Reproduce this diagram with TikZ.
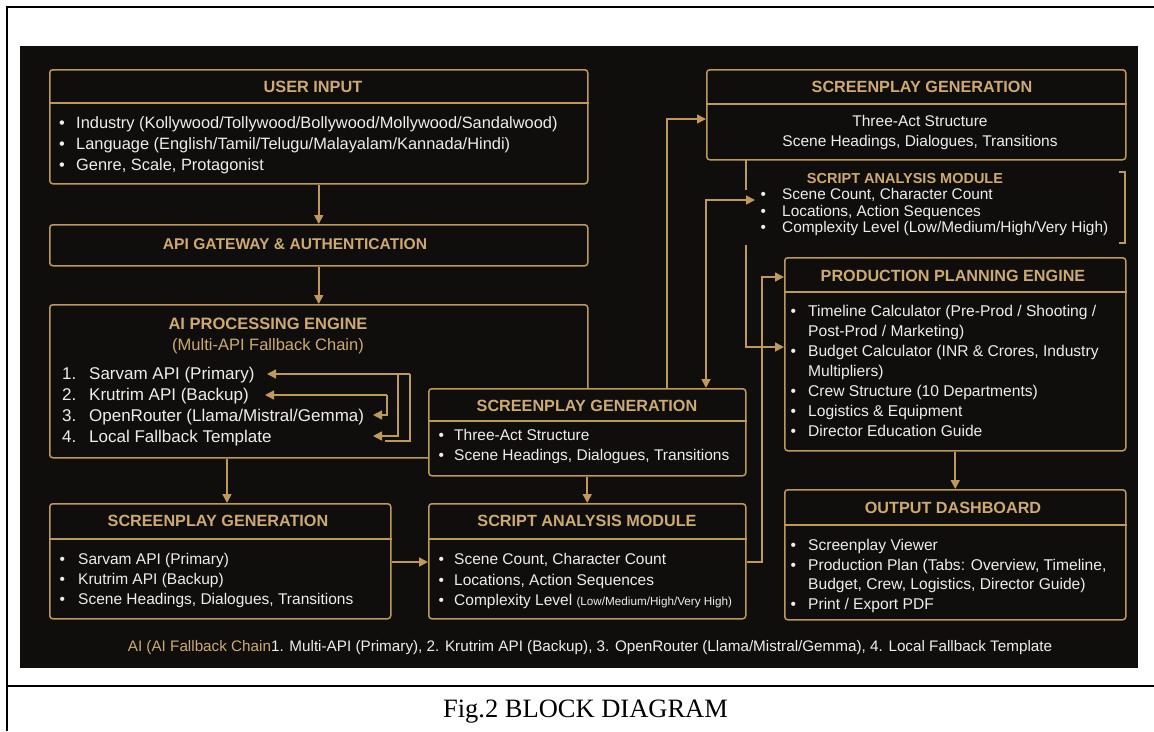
\documentclass[tikz,border=0pt]{standalone}
\usepackage{fontspec}
\setmainfont{Liberation Sans}
\newfontfamily\serifcap{Liberation Serif}
\usetikzlibrary{arrows.meta,calc}
\definecolor{gold}{RGB}{190,153,90}
\definecolor{goldt}{RGB}{206,170,112}
\definecolor{panel}{RGB}{15,14,13}
\definecolor{wtxt}{RGB}{238,238,235}
\newcommand\fs[2]{\fontsize{#1}{#2}\selectfont}
\newcommand\blist[2]{\begin{tabular}[t]{@{}l@{\hspace{#1}}l@{}}#2\end{tabular}}
\newcommand\mkbox[5]{\node[box, anchor=north west, minimum width=#4-#2, minimum height=#5-#3] (#1) at (#2,#3) {};}
\newcommand\divider[2]{\draw[gline] ($(#1.north west)+(0,#2)$) -- ($(#1.north east)+(0,#2)$);}
\begin{document}
\begin{tikzpicture}[x=1pt,y=-1pt,
  box/.style={draw=gold, line width=1.5pt, rounded corners=3pt, fill=panel, inner sep=0pt},
  gline/.style={draw=gold, line width=1.5pt},
  conn/.style={draw=gold, line width=1.7pt},
  arr/.style={conn, -{Triangle[length=9pt,width=9pt]}},
  darr/.style={conn, {Triangle[length=9pt,width=9pt]}-{Triangle[length=9pt,width=9pt]}},
  ttl/.style={text=goldt, font=\bfseries\fs{16.2}{19}, inner sep=0pt},
  lst/.style={text=wtxt, inner sep=0pt, anchor=base west},
]
\useasboundingbox (0,0) rectangle (1154,731);
\fill[white] (0,0) rectangle (1154,731);
% frame
\draw[black, line width=2pt] (7,731) -- (7,7) -- (1154,7);
\draw[black, line width=2pt] (7,686) -- (1154,686);
\fill[panel] (20,46) rectangle (1138,668);

% boxes
\mkbox{ui}{49}{69}{587}{183}
\divider{ui}{34}
\mkbox{api}{49}{224}{587}{265}
\mkbox{ai}{49}{304}{587}{457}
\mkbox{sg2}{428}{388}{745}{475}
\divider{sg2}{33}
\mkbox{sg1}{706}{69}{1125}{159}
\divider{sg1}{35}
\mkbox{pp}{784}{257}{1125}{450}
\divider{pp}{35}
\mkbox{od}{784}{489}{1125}{619}
\divider{od}{36}
\mkbox{sg3}{49}{503}{390}{618}
\divider{sg3}{36}
\mkbox{sa2}{428}{503}{745}{618}
\divider{sa2}{36}

% titles
\node[ttl, font=\bfseries\fs{16.3}{19}] (uit) at (313,87) {USER INPUT};
\node[ttl, font=\bfseries\fs{15.6}{19}] (apit) at (295,244) {API GATEWAY \& AUTHENTICATION};
\node[ttl, font=\bfseries\fs{16.5}{19}] (ait) at (268,324) {AI PROCESSING ENGINE};
\node[ttl, font=\fs{16.5}{19}] (ais) at (268,346) {(Multi-API Fallback Chain)};
\node[ttl] (sg2t) at (587,406) {SCREENPLAY GENERATION};
\node[ttl] (sg1t) at (922,87) {SCREENPLAY GENERATION};
\node[ttl, font=\bfseries\fs{14.5}{17}] (sa1t) at (905,179) {SCRIPT ANALYSIS MODULE};
\node[ttl] (ppt) at (953,276) {PRODUCTION PLANNING ENGINE};
\node[ttl] (odt) at (953,508) {OUTPUT DASHBOARD};
\node[ttl] (sg3t) at (218,521) {SCREENPLAY GENERATION};
\node[ttl] (sa2t) at (587,521) {SCRIPT ANALYSIS MODULE};

% bodies
\node[lst, font=\fs{16.4}{21}] (uil) at (59,128.5) {\blist{11.3pt}{%
  \textbullet & Industry (Kollywood/Tollywood/Bollywood/Mollywood/Sandalwood)\\
  \textbullet & Language (English/Tamil/Telugu/Malayalam/Kannada/Hindi)\\
  \textbullet & Genre, Scale, Protagonist}};
\node[lst, font=\fs{17}{21}] (ail) at (62,379) {\blist{12.8pt}{%
  1. & Sarvam API (Primary)\\
  2. & Krutrim API (Backup)\\
  3. & OpenRouter (Llama/Mistral/Gemma)\\
  4. & Local Fallback Template}};
\node[lst, font=\fs{15.5}{20}] (sg2l) at (438.3,440.5) {\blist{10.3pt}{%
  \textbullet & Three-Act Structure\\
  \textbullet & Scene Headings, Dialogues, Transitions}};
\node[text=wtxt, inner sep=0pt, anchor=base, font=\fs{15.5}{20}] (sg1l) at (920,126.5) {\begin{tabular}[t]{@{}c@{}}Three-Act Structure\\ Scene Headings, Dialogues, Transitions\end{tabular}};
\node[lst, font=\fs{15.4}{16.5}] (sa1l) at (760.3,199.5) {\blist{16.3pt}{%
  \textbullet & Scene Count, Character Count\\
  \textbullet & Locations, Action Sequences\\
  \textbullet & Complexity Level (Low/Medium/High/Very High)}};
\node[lst, font=\fs{15.6}{20}] (ppl) at (790.3,316.5) {\blist{12.2pt}{%
  \textbullet & Timeline Calculator (Pre-Prod / Shooting /\\
   & Post-Prod / Marketing)\\
  \textbullet & Budget Calculator (INR \& Crores, Industry\\
   & Multipliers)\\
  \textbullet & Crew Structure (10 Departments)\\
  \textbullet & Logistics \& Equipment\\
  \textbullet & Director Education Guide}};
\node[lst, font=\fs{15.6}{19.5}] (odl) at (790.3,550.5) {\blist{12.2pt}{%
  \textbullet & Screenplay Viewer\\
  \textbullet & Production Plan (Tabs: Overview, Timeline,\\
   & Budget, Crew, Logistics, Director Guide)\\
  \textbullet & Print / Export PDF}};
\node[lst, font=\fs{15.5}{20}] (sg3l) at (59.3,564.5) {\blist{13.3pt}{%
  \textbullet & Sarvam API (Primary)\\
  \textbullet & Krutrim API (Backup)\\
  \textbullet & Scene Headings, Dialogues, Transitions}};
\node[lst, font=\fs{15.5}{20.5}] (sa2l) at (438.3,564.5) {\blist{10.3pt}{%
  \textbullet & Scene Count, Character Count\\
  \textbullet & Locations, Action Sequences\\
  \textbullet & Complexity Level {\fs{11.7}{14}(Low/Medium/High/Very High)}}};

% bracket of the upper analysis module
\draw[gline, line width=1.3pt] (1119,172) -- (1125,172) -- (1125,243) -- (1119,243);

% panel footnote
\node[text=wtxt, inner sep=0pt, font=\fs{15.25}{18}] (foot) at (590,648) {{\color{goldt}AI (AI Fallback Chain}1. Multi-API (Primary), 2. Krutrim API (Backup), 3. OpenRouter (Llama/Mistral/Gemma), 4. Local Fallback Template};

% caption
\node[text=black, inner sep=0pt, font=\serifcap\fs{26.5}{30}] (cap) at (585.5,712) {Fig.2 BLOCK DIAGRAM};

% helper coordinates
\coordinate (h562) at (0,562);
\coordinate (h119) at (0,119);
\coordinate (h347) at (0,347);
\coordinate (v667) at (667,0);
\coordinate (v706) at (706,0);
\coordinate (bend200) at (706,200);
\coordinate (sa1in) at (755,200);
\coordinate (s1a) at (746,159);
\coordinate (s1b) at (746,190);
\coordinate (s2a) at (746,245);
\coordinate (c1) at (762,562);
\coordinate (c2) at (762,277);
\coordinate (aidown) at (227,0);

% main connectors
\draw[arr] (ui.south) -- (api.north);
\draw[arr] (api.south) -- (ai.north);
\draw[arr] (ai.south -| aidown) -- (sg3.north -| aidown);
\draw[arr] (sg3.east |- h562) -- (sa2.west |- h562);
\draw[arr] (sg2.south) -- (sa2.north);
\draw[arr] (pp.south) -- (od.north);
\draw[arr] (sg2.north -| v667) -- (v667 |- h119) -- (sg1.west |- h119);
\draw[darr] (sg2.north -| v706) -- (bend200) -- (sa1in);
\draw[conn] (s1a) -- (s1b);
\draw[arr] (s2a) -- (s2a |- h347) -- (pp.west |- h347);
\draw[arr] (sa2.east |- c1) -- (c1) -- (c2) -- (pp.west |- c2);

% fallback chain inside the AI engine
\coordinate (f1) at (410,374);
\coordinate (f1t) at (267,374);
\coordinate (f2) at (398,374);
\coordinate (f2b) at (398,436);
\coordinate (f4t) at (373,436);
\coordinate (f3) at (410,441);
\coordinate (f3e) at (385,441);
\coordinate (k1) at (387,395);
\coordinate (k1t) at (265,395);
\coordinate (k2) at (387,415);
\coordinate (k2t) at (373,415);
\draw[arr, line width=1.4pt] (f1) -- (f1t);
\draw[arr, line width=1.4pt] (f2) -- (f2b) -- (f4t);
\draw[conn, line width=1.4pt] (f1) -- (f3) -- (f3e);
\draw[arr, line width=1.4pt] (k1) -- (k1t);
\draw[arr, line width=1.4pt] (k1) -- (k2) -- (k2t);
\end{tikzpicture}
\end{document}
